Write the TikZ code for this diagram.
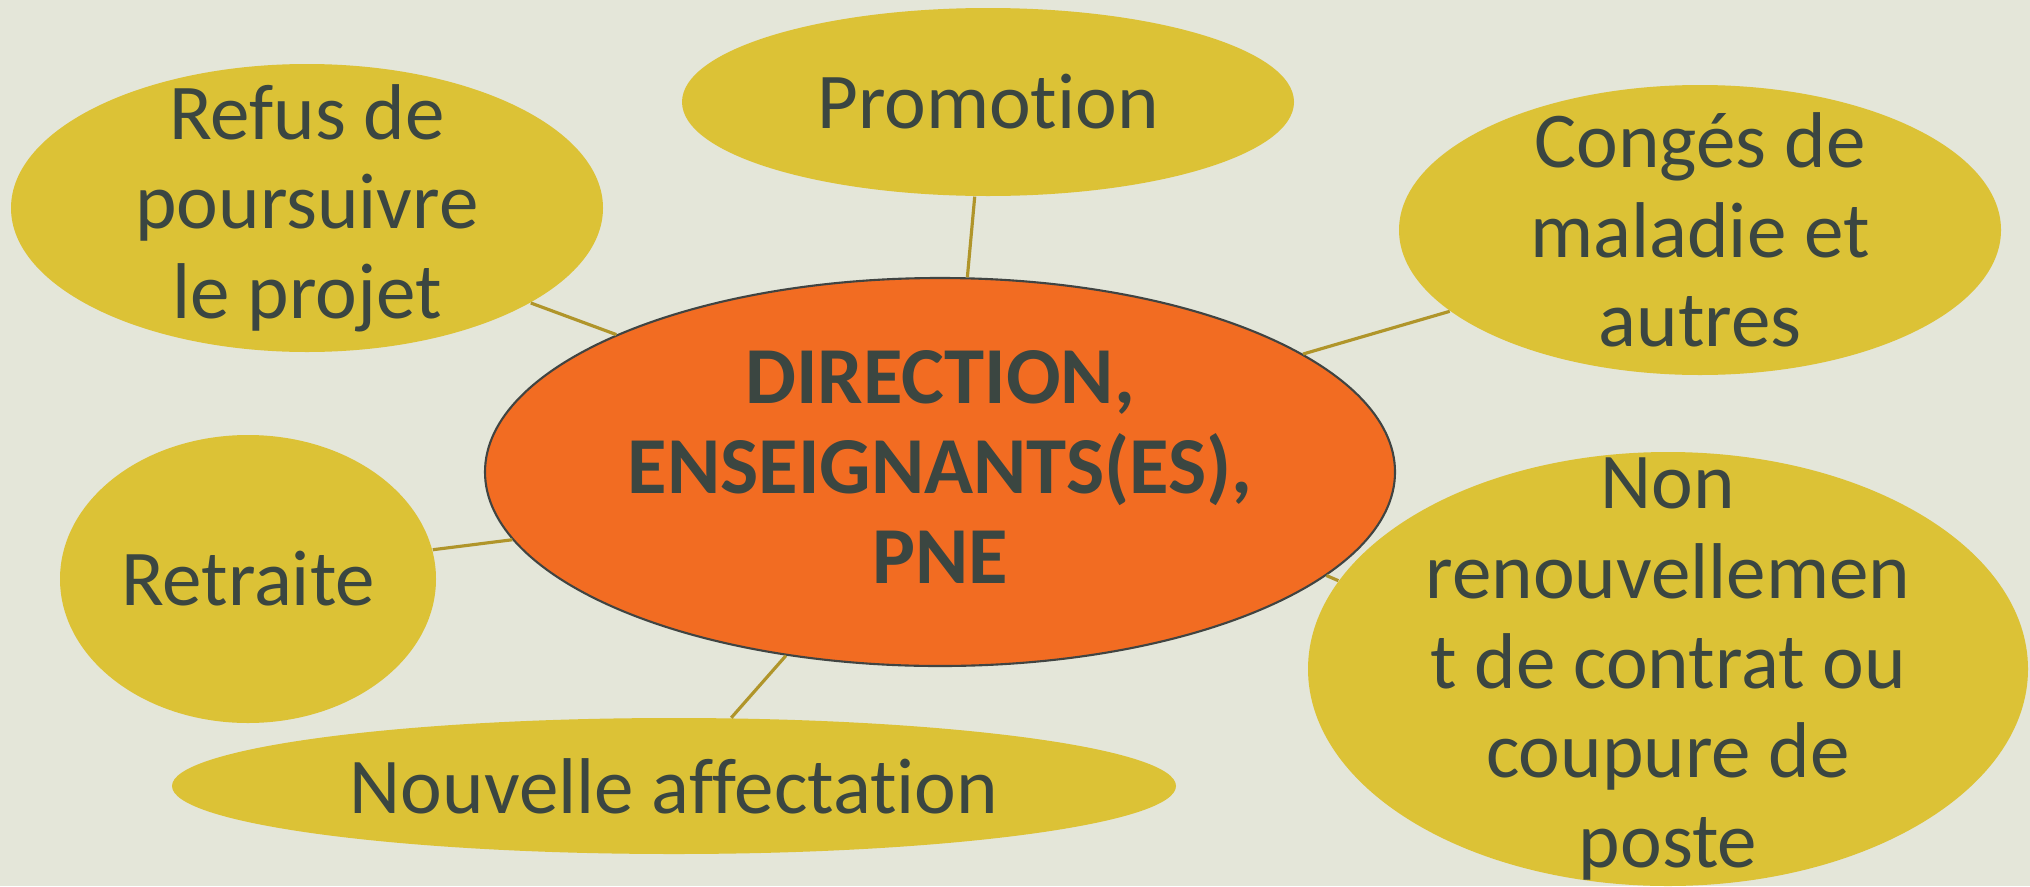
\documentclass[tikz,border=0pt]{standalone}
\usepackage{fontspec}
\setmainfont[Ligatures=NoCommon]{Carlito}
\usetikzlibrary{shapes.geometric}
\definecolor{fond}{HTML}{E4E6D9}
\definecolor{jaune}{HTML}{DCC236}
\definecolor{orange}{HTML}{F26C22}
\definecolor{gris}{HTML}{3B4641}
\definecolor{trait}{HTML}{B0952A}
\definecolor{bord}{HTML}{404442}

\begin{document}
\begin{tikzpicture}[
  bulle/.style={ellipse, fill=jaune, inner sep=0pt},
  centre/.style={ellipse, fill=orange, draw=bord, line width=0.6pt, inner sep=0pt},
  texte/.style={align=center, text=gris, font=\fontsize{22.5}{25.5}\selectfont},
  lien/.style={draw=trait, line width=0.9pt}]
  \fill[fond] (0,0) rectangle (20.30,-8.86);
  \useasboundingbox (0,0) rectangle (20.30,-8.86);
  \clip (0,0) rectangle (20.30,-8.86);

  % bulles autour
  \node[bulle, minimum width=6.12cm, minimum height=1.88cm] (promo) at (9.88,-1.02) {};
  \node[bulle, minimum width=5.92cm, minimum height=2.88cm] (refus) at (3.07,-2.08) {};
  \node[bulle, minimum width=6.02cm, minimum height=2.90cm] (conges) at (17.00,-2.30) {};
  \node[bulle, minimum width=3.76cm, minimum height=2.88cm] (retraite) at (2.48,-5.79) {};
  \node[bulle, minimum width=10.04cm, minimum height=1.36cm] (affect) at (6.74,-7.86) {};
  \node[bulle, minimum width=7.20cm, minimum height=4.34cm] (nonrenouv) at (16.68,-6.69) {};
  % bulle centrale
  \node[centre, minimum width=9.10cm, minimum height=3.88cm] (dir) at (9.40,-4.72) {};

  % liens
  \draw[lien] (promo.262) -- (dir.82);
  \draw[lien] (refus.337) -- (dir.157);
  \draw[lien] (conges.198) -- (dir.18);
  \draw[lien] (retraite.9) -- (dir.189);
  \draw[lien] (affect.50) -- (dir.230);
  \draw[lien] (nonrenouv.165) -- (dir.345);

  % textes
  \node[texte] at (promo) {Promotion};
  \node[texte] at (refus) {Refus de\\poursuivre\\le projet};
  \node[texte] at (conges) {Congés de\\maladie et\\autres};
  \node[texte] at (retraite) {Retraite};
  \node[texte] at (affect) {Nouvelle affectation};
  \node[texte] at (nonrenouv) {Non\\renouvellemen\\t de contrat ou\\coupure de\\poste};
  \node[texte, font=\bfseries\fontsize{23}{25.5}\selectfont] at ([yshift=0.05cm]dir) {DIRECTION,\\ENSEIGNANTS(ES),\\PNE};
\end{tikzpicture}
\end{document}
